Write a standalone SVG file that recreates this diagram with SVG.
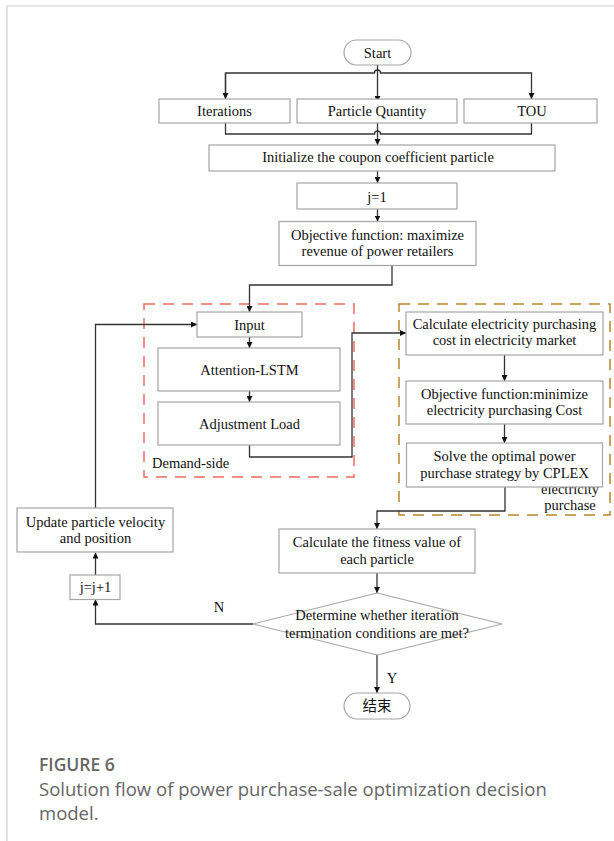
<svg xmlns="http://www.w3.org/2000/svg" width="614" height="841" viewBox="0 0 614 841">
<defs>
<style>
.box{fill:#fff;stroke:#a6a6a6;stroke-width:1.2}
.t{font-family:"Liberation Serif","Times New Roman",serif;font-size:14.5px;fill:#111;text-anchor:middle}
.c{fill:none;stroke:#333;stroke-width:1.3}
.cap{font-family:"Open Sans","Noto Sans",sans-serif;fill:#666}
</style>
<marker id="ah" viewBox="0 0 10 10" refX="10" refY="5" markerWidth="6" markerHeight="6" orient="auto-start-reverse" markerUnits="userSpaceOnUse">
<path d="M0,0 L10,5 L0,10 z" fill="#111"/>
</marker>
</defs>
<rect width="614" height="841" fill="#fff"/>
<path d="M7,841 V6 H614" fill="none" stroke="#cfcfcf" stroke-width="1.2"/>

<g id="demand-side-group">
<rect x="144" y="304" width="210" height="173" fill="none" stroke="#ee6b5f" stroke-width="1.5" stroke-dasharray="11,8"/>
<text class="t" x="152" y="468" style="text-anchor:start">Demand-side</text>
</g>
<g id="purchase-group">
<rect x="399" y="304" width="211" height="211" fill="none" stroke="#b8862e" stroke-width="1.5" stroke-dasharray="11,8"/>
<text class="t" x="570" y="494">electricity</text>
<text class="t" x="570" y="509.5">purchase</text>
</g>

<g id="connectors">
<path class="c" d="M377.5,65 V102" marker-end="url(#ah)"/>
<path class="c" d="M225.5,102 V73 H374.5 A3,3 0 0 1 380.5,73 H531.5 V99" marker-end="url(#ah)"/>
<path class="c" d="M225.5,73 V99" marker-end="url(#ah)"/>
<path class="c" d="M225.5,123 V134 H374.5 A3,3 0 0 1 380.5,134 H531.5 V123"/>
<path class="c" d="M377.5,123 V145" marker-end="url(#ah)"/>
<path class="c" d="M377.5,171 V183" marker-end="url(#ah)"/>
<path class="c" d="M377.5,209 V221.5" marker-end="url(#ah)"/>
<path class="c" d="M392,266 V285 H249.5 V312" marker-end="url(#ah)"/>
<path class="c" d="M249.5,337 V348" marker-end="url(#ah)"/>
<path class="c" d="M249.5,391 V402" marker-end="url(#ah)"/>
<path class="c" d="M249.5,445 V457 H352 V333 H406" marker-end="url(#ah)"/>
<path class="c" d="M504.5,355 V381" marker-end="url(#ah)"/>
<path class="c" d="M504.5,424 V443" marker-end="url(#ah)"/>
<path class="c" d="M505,487 V511 H377 V529" marker-end="url(#ah)"/>
<path class="c" d="M377,573 V593" marker-end="url(#ah)"/>
<path class="c" d="M377,655 V693" marker-end="url(#ah)"/>
<path class="c" d="M253,624 H95.5 V599.5" marker-end="url(#ah)"/>
<path class="c" d="M95.5,575 V552.5" marker-end="url(#ah)"/>
<path class="c" d="M95.5,508 V324.5 H197" marker-end="url(#ah)"/>
<text class="t" x="219" y="612">N</text>
<text class="t" x="392" y="683">Y</text>
</g>

<g id="start"><rect class="box" x="344" y="40" width="67" height="25" rx="12.5"/><text class="t" x="377.5" y="58">Start</text></g>
<g id="iterations"><rect class="box" x="159" y="99" width="131" height="24"/><text class="t" x="224.5" y="115.5">Iterations</text></g>
<g id="particle-quantity"><rect class="box" x="297" y="99" width="160" height="24"/><text class="t" x="377" y="115.5">Particle Quantity</text></g>
<g id="tou"><rect class="box" x="464" y="99" width="133" height="24"/><text class="t" x="532" y="115.5">TOU</text></g>
<g id="initialize"><rect class="box" x="209" y="145" width="346" height="26"/><text class="t" x="378" y="162">Initialize the coupon coefficient particle</text></g>
<g id="j1"><rect class="box" x="297" y="183" width="160" height="26"/><text class="t" x="377" y="201.5">j=1</text></g>
<g id="objective-max"><rect class="box" x="279" y="221.5" width="197" height="44"/><text class="t" x="377.5" y="240">Objective function: maximize</text><text class="t" x="377.5" y="256">revenue of power retailers</text></g>
<g id="input"><rect class="box" x="197" y="312" width="105" height="25"/><text class="t" x="249.5" y="330">Input</text></g>
<g id="attention-lstm"><rect class="box" x="158" y="348" width="182" height="43"/><text class="t" x="249.5" y="374.5">Attention-LSTM</text></g>
<g id="adjustment-load"><rect class="box" x="158" y="402" width="182" height="43"/><text class="t" x="249.5" y="428.5">Adjustment Load</text></g>
<g id="calc-cost"><rect class="box" x="406" y="312" width="197" height="43"/><text class="t" x="504.5" y="328.5">Calculate electricity purchasing</text><text class="t" x="504.5" y="345">cost in electricity market</text></g>
<g id="objective-min"><rect class="box" x="406" y="381" width="197" height="43"/><text class="t" x="504.5" y="398.5">Objective function:minimize</text><text class="t" x="504.5" y="415">electricity purchasing Cost</text></g>
<g id="solve-cplex"><rect class="box" x="406.5" y="443" width="196" height="44"/><text class="t" x="504.5" y="461">Solve the optimal power</text><text class="t" x="504.5" y="478">purchase strategy by CPLEX</text></g>
<g id="fitness"><rect class="box" x="279" y="529" width="196" height="44"/><text class="t" x="377" y="547">Calculate the fitness value of</text><text class="t" x="377" y="564">each particle</text></g>
<g id="decision"><path class="box" d="M377,593 L502,624 L377,655 L253,624 Z"/><text class="t" x="377" y="620">Determine whether iteration</text><text class="t" x="377" y="637.5">termination conditions are met?</text></g>
<g id="end"><rect class="box" x="344" y="693" width="66" height="26" rx="13"/><text class="t" x="377" y="711" style="font-family:'Liberation Serif','Noto Sans CJK SC',serif">结束</text></g>
<g id="update"><rect class="box" x="17" y="508" width="156" height="44"/><text class="t" x="95.5" y="527">Update particle velocity</text><text class="t" x="95.5" y="543">and position</text></g>
<g id="jinc"><rect class="box" x="70" y="575" width="50" height="24.5"/><text class="t" x="95.5" y="592">j=j+1</text></g>

<g id="caption">
<text class="cap" x="39" y="771" font-size="17.5" font-weight="600" fill="#555">FIGURE 6</text>
<text class="cap" x="39" y="796" font-size="18.5">Solution flow of power purchase-sale optimization decision</text>
<text class="cap" x="39" y="820" font-size="18.5">model.</text>
</g>
</svg>
